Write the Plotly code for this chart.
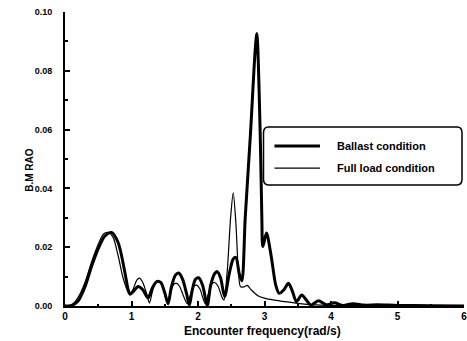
import plotly.graph_objects as go

# Ballast condition (thick line)
ballast_x = [0, 0.1, 0.2, 0.3, 0.4, 0.5, 0.6, 0.7, 0.8, 0.9, 0.95, 0.98, 1.03, 1.1, 1.17,
             1.25, 1.31, 1.38, 1.44, 1.5, 1.55, 1.6, 1.66, 1.71, 1.77, 1.83, 1.87, 1.91,
             1.96, 2.01, 2.07, 2.14, 2.19, 2.25, 2.29, 2.34, 2.4, 2.47, 2.53, 2.57, 2.62,
             2.66, 2.71, 2.79, 2.86, 2.885, 2.935, 2.96, 2.975, 3.03, 3.1, 3.17, 3.22, 3.29,
             3.36, 3.42, 3.48, 3.56, 3.63, 3.7, 3.81, 3.93, 4.05, 4.18, 4.33, 4.5, 4.7, 5.0,
             5.5, 6.0]
ballast_y = [0, 0.0002, 0.0018, 0.0065, 0.0135, 0.0195, 0.0238, 0.0250, 0.0215, 0.0115,
             0.0055, 0.0040, 0.0050, 0.0066, 0.0055, 0.0027, 0.0060, 0.0083, 0.0080, 0.0045,
             0.0008, 0.0065, 0.0105, 0.0112, 0.0090, 0.0040, 0.0003, 0.0050, 0.0090, 0.0096,
             0.0070, 0.0002, 0.0070, 0.0110, 0.0117, 0.0095, 0.0032, 0.0110, 0.0160, 0.0165,
             0.0110, 0.0085, 0.030, 0.059, 0.087, 0.0927, 0.059, 0.030, 0.0202, 0.0248,
             0.017, 0.007, 0.0043, 0.0055, 0.0077, 0.005, 0.0015, 0.0037, 0.002, 0.0003,
             0.0018, 0.0004, 0.0011, 0.0002, 0.0008, 0.0003, 0.0004, 0.0002, 0.0001, 0.0]

# Full load condition (thin line)
full_x = [0, 0.1, 0.2, 0.3, 0.4, 0.5, 0.58, 0.65, 0.72, 0.8, 0.88, 0.97, 1.02, 1.08, 1.12,
          1.17, 1.23, 1.27, 1.31, 1.36, 1.4, 1.45, 1.5, 1.54, 1.58, 1.63, 1.67, 1.72, 1.78,
          1.84, 1.89, 1.94, 1.98, 2.03, 2.07, 2.11, 2.16, 2.21, 2.25, 2.3, 2.36, 2.39, 2.44,
          2.49, 2.53, 2.57, 2.61, 2.64, 2.69, 2.74, 2.8, 2.9, 3.01, 3.15, 3.3, 3.5, 3.7,
          4.0, 4.5, 5.0, 6.0]
full_y = [0, 0.0003, 0.003, 0.008, 0.015, 0.021, 0.0245, 0.025, 0.0235, 0.017, 0.009,
          0.004, 0.0055, 0.0088, 0.0095, 0.0080, 0.0040, 0.0010, 0.0045, 0.0080, 0.0086,
          0.0075, 0.0040, 0.0010, 0.0040, 0.0072, 0.0078, 0.0068, 0.0035, 0.0008, 0.0040,
          0.0068, 0.0071, 0.0058, 0.0030, 0.0008, 0.0045, 0.0075, 0.0080, 0.0068, 0.0030,
          0.0020, 0.012, 0.030, 0.0385, 0.028, 0.011, 0.0065, 0.0065, 0.0070, 0.0055,
          0.0035, 0.0026, 0.002, 0.0015, 0.0009, 0.0005, 0.0002, 0.0001, 0, 0]

x_ticks = [0, 1, 2, 3, 4, 5, 6]
y_ticks = [0.00, 0.02, 0.04, 0.06, 0.08, 0.10]
series_names = ["Ballast condition", "Full load condition"]

FONT = "Liberation Sans"

fig = go.Figure()
fig.add_trace(go.Scatter(x=ballast_x, y=ballast_y, mode="lines", name=series_names[0],
                         line=dict(color="black", width=3, shape="spline", smoothing=0.8)))
fig.add_trace(go.Scatter(x=full_x, y=full_y, mode="lines", name=series_names[1],
                         line=dict(color="black", width=1.2, shape="spline", smoothing=0.8)))

# rounded legend frame (paper coords)
x0, x1, y0, y1 = 0.4975, 0.995, 0.4116, 0.609
rx, ry = 0.012, 0.02
path = (f"M {x0+rx},{y0} L {x1-rx},{y0} Q {x1},{y0} {x1},{y0+ry} "
        f"L {x1},{y1-ry} Q {x1},{y1} {x1-rx},{y1} L {x0+rx},{y1} Q {x0},{y1} {x0},{y1-ry} "
        f"L {x0},{y0+ry} Q {x0},{y0} {x0+rx},{y0} Z")
fig.add_shape(type="path", path=path, xref="paper", yref="paper",
              line=dict(color="black", width=1.5), fillcolor="white", layer="above")

# legend entries (samples + labels)
leg_rows = [(0.544, 3), (0.469, 1.2)]
annotations = []
for name, (yy, w) in zip(series_names, leg_rows):
    fig.add_shape(type="line", xref="paper", yref="paper", x0=0.525, x1=0.639, y0=yy, y1=yy,
                  line=dict(color="black", width=w), layer="above")
    annotations.append(dict(text=name, x=0.677, y=yy, xref="paper", yref="paper",
                            xanchor="left", yanchor="middle", showarrow=False,
                            font=dict(family=FONT, size=11, color="black", weight="bold")))

annotations += [
    dict(text="Encounter frequency(rad/s)", x=0.495, y=-0.085, xref="paper", yref="paper",
         xanchor="center", yanchor="middle", showarrow=False,
         font=dict(family=FONT, size=12, color="black", weight="bold")),
    dict(text="B.M RAO", x=-0.088, y=0.463, xref="paper", yref="paper", textangle=-90,
         xanchor="center", yanchor="middle", showarrow=False,
         font=dict(family=FONT, size=10, color="black", weight="bold")),
]

fig.update_layout(
    width=467, height=341,
    margin=dict(l=65, r=0, t=12, b=35),
    paper_bgcolor="white", plot_bgcolor="white",
    showlegend=False,
    xaxis=dict(range=[0, 6], tickvals=x_ticks, ticktext=[str(v) for v in x_ticks],
               ticks="inside", ticklen=5, tickwidth=1.5, tickcolor="black",
               minor=dict(ticks="inside", ticklen=2, dtick=0.5, tickcolor="black"),
               showline=True, linecolor="black", linewidth=2, showgrid=False, zeroline=False,
               ticklabeloverflow="allow",
               tickfont=dict(family=FONT, size=10, color="black", weight="bold")),
    yaxis=dict(range=[0, 0.1], tickvals=y_ticks, ticktext=[f"{v:.2f}" for v in y_ticks],
               ticks="inside", ticklen=5, tickwidth=1.5, tickcolor="black",
               minor=dict(ticks="inside", ticklen=3, dtick=0.01, tickcolor="black"),
               showline=True, linecolor="black", linewidth=2, showgrid=False, zeroline=False,
               ticklabelstandoff=9,
               tickfont=dict(family=FONT, size=9, color="black", weight="bold")),
    annotations=annotations,
)

fig.write_html("out.html")
